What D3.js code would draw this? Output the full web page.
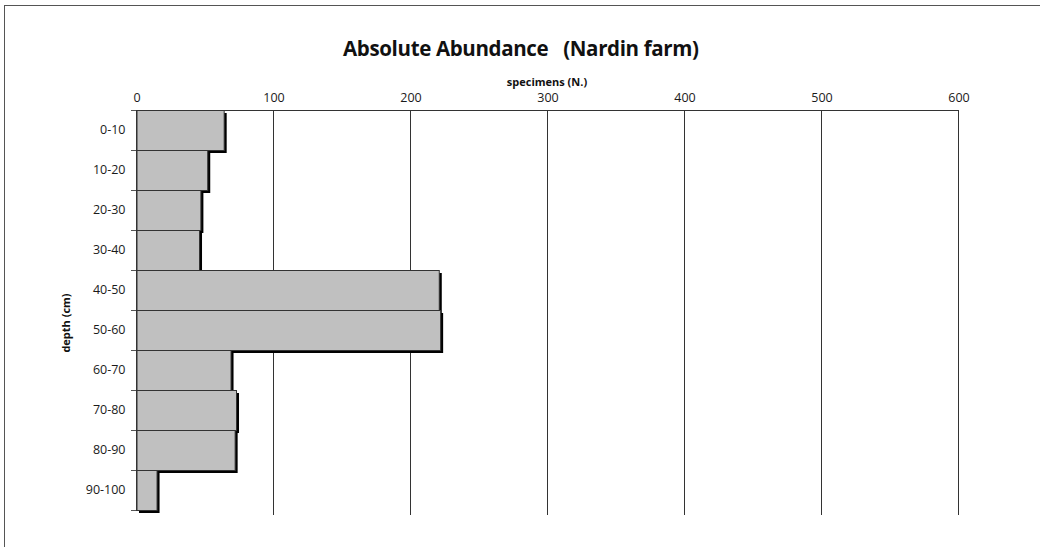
<!DOCTYPE html>
<html><head><meta charset="utf-8">
<script src="https://cdn.jsdelivr.net/npm/d3@7"></script>
<style>body{margin:0;background:#fff;}svg{display:block;}text{white-space:pre;}</style>
</head><body>
<svg id="c" width="1040" height="547"></svg>
<script>
const categories = ["0-10","10-20","20-30","30-40","40-50","50-60","60-70","70-80","80-90","90-100"];
const values = [64, 52, 47, 46, 221, 222, 69, 73, 72, 15];
const xTicks = [0, 100, 200, 300, 400, 500, 600];
const title = "Absolute Abundance   (Nardin farm)";
const xTitle = "specimens (N.)";
const yTitle = "depth (cm)";

const svg = d3.select("#c");
const font = "'Open Sans', 'Liberation Sans', sans-serif";
const m = {left:136, right:958, top:110, bottom:510};

svg.append("rect").attr("x",4.5).attr("y",5.5).attr("width",1100).attr("height",600)
  .attr("fill","none").attr("stroke","#555").attr("stroke-width",1);

const x = d3.scaleLinear().domain([0,600]).range([m.left,m.right]);
const y = d3.scaleBand().domain(categories).range([m.top,m.bottom]).padding(0);

// gridlines
svg.append("g").selectAll("line").data(xTicks.slice(1)).join("line")
  .attr("x1",d=>x(d)+0.5).attr("x2",d=>x(d)+0.5)
  .attr("y1",m.top).attr("y2",m.bottom+5)
  .attr("stroke","#333").attr("stroke-width",1);

// top axis
const xAxis = svg.append("g").attr("transform",`translate(0.5,${m.top+0.5})`)
  .call(d3.axisTop(x).tickValues(xTicks).tickSize(0).tickPadding(9).tickFormat(d3.format("d")));
xAxis.select(".domain").attr("stroke","#333").attr("d",`M${m.left},0H${m.right}`);
xAxis.selectAll("text").attr("font-family",font).attr("font-size",12.5).attr("fill","#1a1a1a");

// shadows
svg.append("g").selectAll("rect").data(categories).join("rect")
  .attr("x",x(0)+3).attr("y",(d)=>y(d)+3)
  .attr("width",(d,i)=>x(values[i])-x(0)).attr("height",y.bandwidth())
  .attr("fill","#000");
// bars
svg.append("g").selectAll("rect").data(categories).join("rect")
  .attr("x",x(0)+0.5).attr("y",(d)=>y(d)+0.5)
  .attr("width",(d,i)=>x(values[i])-x(0)).attr("height",y.bandwidth())
  .attr("fill","#c0c0c0").attr("stroke","#333").attr("stroke-width",1);

// left axis
const yAxis = svg.append("g").attr("transform",`translate(${m.left+0.5},0)`)
  .call(d3.axisLeft(y).tickSize(0).tickPadding(11));
yAxis.select(".domain").attr("stroke","#333");
yAxis.selectAll("text").attr("font-family",font).attr("font-size",12.5).attr("fill","#1a1a1a");
// minor boundary ticks
svg.append("g").selectAll("line").data(d3.range(categories.length+1)).join("line")
  .attr("x1",m.left-5).attr("x2",m.left)
  .attr("y1",i=>m.top+i*y.step()+0.5).attr("y2",i=>m.top+i*y.step()+0.5)
  .attr("stroke","#555");

svg.append("text").attr("x",521).attr("y",56).attr("text-anchor","middle")
  .attr("textLength",356).attr("lengthAdjust","spacing")
  .attr("font-family",font).attr("font-weight","bold").attr("font-size",20.5).attr("fill","#111").text(title);
svg.append("text").attr("x",547).attr("y",86).attr("text-anchor","middle")
  .attr("font-family",font).attr("font-weight","bold").attr("font-size",11).attr("fill","#111").text(xTitle);
svg.append("text").attr("transform","translate(70,323) rotate(-90)").attr("text-anchor","middle")
  .attr("font-family",font).attr("font-weight","bold").attr("font-size",11).attr("fill","#111").text(yTitle);
</script>
</body></html>
